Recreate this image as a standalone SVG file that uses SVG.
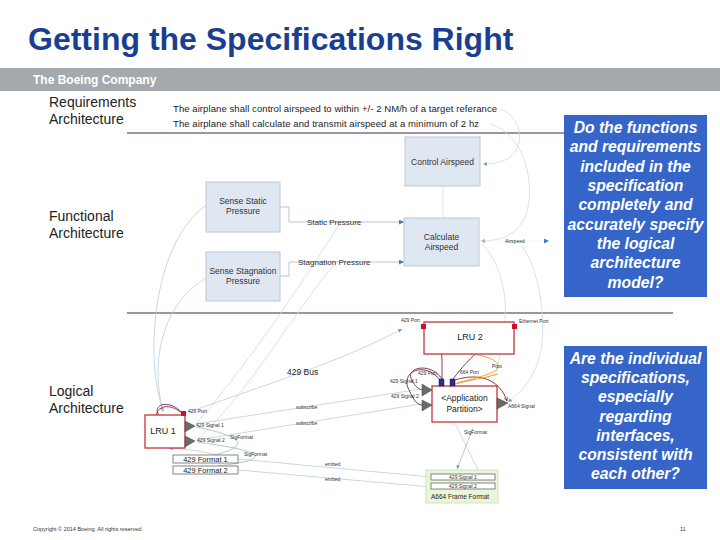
<svg xmlns="http://www.w3.org/2000/svg" width="720" height="540" viewBox="0 0 720 540">
<style>
text{font-family:"Liberation Sans",Arial,sans-serif}
.title{font-size:32px;font-weight:bold;fill:#1b3f90}
.band{font-size:12px;font-weight:bold;fill:#ffffff}
.side{font-size:14px;fill:#222}
.req{font-size:9.5px;fill:#222}
.fn{fill:#dfe7f3;stroke:#bcc6d4;stroke-width:1}
.fnt{font-size:8.5px;fill:#333;text-anchor:middle}
.flbl{font-size:8px;fill:#333}
.flow{fill:none;stroke:#b0bfd0;stroke-width:0.9}
.trace{fill:none;stroke:#d2d8de;stroke-width:0.8}
.btrace{fill:none;stroke:#bccde0;stroke-width:0.8}
.teal{fill:none;stroke:#98c0b6;stroke-width:0.8}
.dred{fill:none;stroke:#7a2634;stroke-width:0.9}
.orng{fill:none;stroke:#f0a030;stroke-width:1}
.lru{fill:#fff;stroke:#c4353c;stroke-width:1.3}
.lrut{font-size:9px;fill:#222;text-anchor:middle}
.tiny{font-size:5px;fill:#333}
.port{fill:#c8102e}
.bport{fill:#2b2d8e;stroke:#1a1a60;stroke-width:0.5}
.sig{fill:#6a6a6a;stroke:#444;stroke-width:0.5}
.fmt{fill:#fff;stroke:#666;stroke-width:0.8}
.fmtt{font-size:7.5px;fill:#222;text-anchor:middle}
.q{fill:#3565c8}
.qt{font-size:15.7px;font-weight:bold;font-style:italic;fill:#fff;text-anchor:middle}
.div{stroke:#4a2550;stroke-width:1.2}
</style>
<defs>
<marker id="ab" viewBox="0 0 10 10" refX="10" refY="5" markerWidth="7" markerHeight="5" markerUnits="userSpaceOnUse" orient="auto"><path d="M0,0 L10,5 L0,10 Z" fill="#4a7bbd"/></marker>
<marker id="as" viewBox="0 0 10 10" refX="10" refY="5" markerWidth="4" markerHeight="4" markerUnits="userSpaceOnUse" orient="auto"><path d="M0,0 L10,5 L0,10 Z" fill="#7f9cc4"/></marker>
<marker id="ar" viewBox="0 0 10 10" refX="10" refY="5" markerWidth="4" markerHeight="4" markerUnits="userSpaceOnUse" orient="auto"><path d="M0,0 L10,5 L0,10" fill="none" stroke="#7a2634" stroke-width="1.5"/></marker>
</defs>
<rect width="720" height="540" fill="#ffffff"/>
<g id="header">
<text class="title" x="28" y="50">Getting the Specifications Right</text>
<rect x="0" y="68" width="720" height="23" fill="#a4a9ad"/>
<text class="band" x="33" y="84">The Boeing Company</text>
</g>
<g id="section-labels">
<text class="side" x="49" y="107">Requirements</text>
<text class="side" x="49" y="124">Architecture</text>
<text class="side" x="49" y="221">Functional</text>
<text class="side" x="49" y="238">Architecture</text>
<text class="side" x="49" y="396">Logical</text>
<text class="side" x="49" y="413">Architecture</text>
<line class="div" x1="127" y1="133" x2="564" y2="133"/>
<line class="div" x1="127" y1="313" x2="673" y2="313"/>
</g>
<g id="connectors">
<path class="trace" d="M500,109 C522,116 527,148 507,159 C499,163 491,164 483,164" marker-end="url(#as)"/>
<path class="trace" d="M490,124 C525,134 536,185 526,215 C518,235 500,241 481,241" marker-end="url(#as)"/>
<path class="trace" d="M482,244 C500,262 507,292 505,320 C503,345 498,365 493,384"/>
<path class="trace" d="M522,246 C540,272 546,318 541,350 C536,376 522,392 508,402" marker-end="url(#as)"/>
<line x1="443" y1="186" x2="443" y2="218" stroke="#d8dde4" stroke-width="0.8"/>
<path class="flow" d="M280,207 H289 V222 H404" marker-end="url(#ab)"/>
<path class="flow" d="M280,276 H289 V262 H404" marker-end="url(#ab)"/>
<line x1="480" y1="241" x2="549" y2="241" stroke="#eceff3" stroke-width="0.6" marker-end="url(#ab)"/>
<path class="btrace" d="M206,205 C160,238 146,330 158,392 L163,412" marker-end="url(#as)"/>
<path class="btrace" d="M206,278 C168,300 148,352 163,412"/>
<path class="trace" d="M342,220 C312,268 252,360 196,424"/>
<path class="trace" d="M336,263 C300,302 252,390 197,440"/>
<path class="btrace" d="M186,413 C262,386 340,362 402,329" marker-end="url(#as)"/>
<line class="btrace" x1="196" y1="424" x2="421" y2="389"/>
<line class="btrace" x1="198" y1="440" x2="421" y2="404"/>
<path class="teal" d="M196,427 Q272,442 210,456"/>
<path class="teal" d="M197,442 Q302,456 218,466"/>
<line class="btrace" x1="238" y1="459" x2="431" y2="477"/>
<line class="btrace" x1="238" y1="470" x2="431" y2="487"/>
<path class="btrace" d="M232,460 C212,452 188,449 169,448" marker-end="url(#as)"/>
<line class="btrace" x1="455" y1="423" x2="478" y2="470"/>
<path class="teal" d="M473,428 L457,469" marker-end="url(#as)"/>
<path class="dred" d="M442,379 C442,356 444,338 426,328" marker-end="url(#ar)"/>
<path class="dred" d="M453,379 C470,356 494,336 513,328" marker-end="url(#ar)"/>
<path class="dred" d="M442,379 C430,361 404,368 412,380 C415,387 419,389 422,390"/>
<path class="dred" d="M440,380 C424,360 398,372 410,392 C414,401 418,405 422,405"/>
<path class="dred" d="M455,380 C480,372 500,380 507,401" marker-end="url(#ar)"/>
<path class="dred" d="M183,414 C170,398 150,404 160,417 C166,423 178,426 185,427"/>
<path class="dred" d="M183,414 C160,394 144,420 168,431 C175,435 180,440 185,442"/>
<path class="orng" d="M470,354 C495,356 505,366 493,372 C480,378 466,380 457,383"/>
<path class="orng" d="M498,374 C485,378 470,380 455,384"/>
<text class="flbl" x="307" y="225">Static Pressure</text>
<text class="flbl" x="298" y="265">Stagnation Pressure</text>
<text class="tiny" x="505" y="243">Airspeed</text>
<text x="287" y="375" style="font-size:8.5px;fill:#222">429 Bus</text>
<text class="tiny" x="296" y="409">subscribe</text>
<text class="tiny" x="296" y="425">subscribe</text>
<text class="tiny" x="230" y="439">SigFormat</text>
<text class="tiny" x="244" y="456">SigFormat</text>
<text class="tiny" x="325" y="466">embed</text>
<text class="tiny" x="325" y="481">embed</text>
<text class="tiny" x="464" y="434">SigFormat</text>
<text class="tiny" x="492" y="368">Post</text>
</g>
<g id="req1"><text class="req" x="173" y="112" textLength="324" lengthAdjust="spacing">The airplane shall control airspeed to within +/- 2 NM/h of a target referance</text></g>
<g id="req2"><text class="req" x="173" y="127" textLength="306" lengthAdjust="spacing">The airplane shall calculate and transmit airspeed at a minimum of 2 hz</text></g>
<g id="control-airspeed"><rect class="fn" x="405" y="137" width="75" height="49"/><text class="fnt" x="442.5" y="165">Control Airspeed</text></g>
<g id="calculate-airspeed"><rect class="fn" x="404" y="218" width="75" height="48"/><text class="fnt" x="441.5" y="240">Calculate</text><text class="fnt" x="441.5" y="250">Airspeed</text></g>
<g id="sense-static"><rect class="fn" x="206" y="182" width="74" height="50"/><text class="fnt" x="243" y="204">Sense Static</text><text class="fnt" x="243" y="214">Pressure</text></g>
<g id="sense-stagnation"><rect class="fn" x="206" y="252" width="74" height="49"/><text class="fnt" x="243" y="274">Sense Stagnation</text><text class="fnt" x="243" y="284">Pressure</text></g>
<g id="lru2">
<rect class="lru" x="424" y="322" width="90" height="32"/>
<text class="lrut" x="470" y="340">LRU 2</text>
<rect class="port" x="421" y="324" width="5" height="5"/>
<rect class="port" x="512" y="324" width="5" height="5"/>
<text class="tiny" x="401" y="322">429 Port</text>
<text class="tiny" x="519" y="323">Ethernet Port</text>
</g>
<g id="application-partition">
<rect class="lru" x="432" y="386" width="65" height="36"/>
<text class="lrut" x="464.5" y="401" style="font-size:8.5px">&lt;Application</text>
<text class="lrut" x="464.5" y="412" style="font-size:8.5px">Partition&gt;</text>
<rect class="bport" x="439" y="379" width="5" height="7"/>
<rect class="bport" x="450" y="379" width="5" height="7"/>
<path class="sig" d="M422,384 L432,390 L422,396 Z"/>
<path class="sig" d="M422,400 L432,405 L422,411 Z"/>
<path class="sig" d="M497,398 L508,403 L497,409 Z"/>
<text class="tiny" x="418" y="375">429 Port</text>
<text class="tiny" x="460" y="374">664 Port</text>
<text class="tiny" x="390" y="383">429 Signal 1</text>
<text class="tiny" x="391" y="398">429 Signal 2</text>
<text class="tiny" x="508" y="408">A664 Signal</text>
</g>
<g id="lru1">
<rect class="lru" x="145" y="415" width="40" height="33"/>
<text class="lrut" x="163" y="434">LRU 1</text>
<rect class="port" x="181" y="411" width="5" height="5"/>
<path class="sig" d="M185,421 L195,426 L185,432 Z"/>
<path class="sig" d="M185,436 L195,441 L185,447 Z"/>
<text class="tiny" x="188" y="413">429 Port</text>
<text class="tiny" x="196" y="427">429 Signal 1</text>
<text class="tiny" x="197" y="442">429 Signal 2</text>
</g>
<g id="format1"><rect class="fmt" x="173" y="455" width="65" height="8"/><text class="fmtt" x="205.5" y="462">429 Format 1</text></g>
<g id="format2"><rect class="fmt" x="173" y="466" width="65" height="8"/><text class="fmtt" x="205.5" y="473">429 Format 2</text></g>
<g id="a664-frame-format">
<rect x="426" y="470" width="72" height="33" fill="#eaf6dc" stroke="#c6dfae" stroke-width="0.8"/>
<rect class="fmt" x="431" y="474" width="64" height="6"/>
<text class="tiny" x="463" y="479" text-anchor="middle">429 Signal 1</text>
<rect class="fmt" x="431" y="483" width="64" height="6"/>
<text class="tiny" x="463" y="488" text-anchor="middle">429 Signal 2</text>
<text x="431" y="499" style="font-size:6.5px;fill:#222">A664 Frame Format</text>
</g>
<g id="question1">
<rect class="q" x="564" y="115" width="143" height="182"/>
<text class="qt" x="635.5" y="133">Do the functions</text>
<text class="qt" x="635.5" y="152">and requirements</text>
<text class="qt" x="635.5" y="172">included in the</text>
<text class="qt" x="635.5" y="191">specification</text>
<text class="qt" x="635.5" y="210">completely and</text>
<text class="qt" x="635.5" y="230">accurately specify</text>
<text class="qt" x="635.5" y="249">the logical</text>
<text class="qt" x="635.5" y="268">architecture</text>
<text class="qt" x="635.5" y="288">model?</text>
</g>
<g id="question2">
<rect class="q" x="564" y="346" width="143" height="143"/>
<text class="qt" x="635.5" y="364">Are the individual</text>
<text class="qt" x="635.5" y="383">specifications,</text>
<text class="qt" x="635.5" y="402">especially</text>
<text class="qt" x="635.5" y="422">regarding</text>
<text class="qt" x="635.5" y="441">interfaces,</text>
<text class="qt" x="635.5" y="460">consistent with</text>
<text class="qt" x="635.5" y="479">each other?</text>
</g>
<g id="footer">
<text x="33" y="531" style="font-size:5.5px;fill:#333">Copyright © 2014 Boeing. All rights reserved.</text>
<text x="680" y="531" style="font-size:5.5px;fill:#333">11</text>
</g>
</svg>
